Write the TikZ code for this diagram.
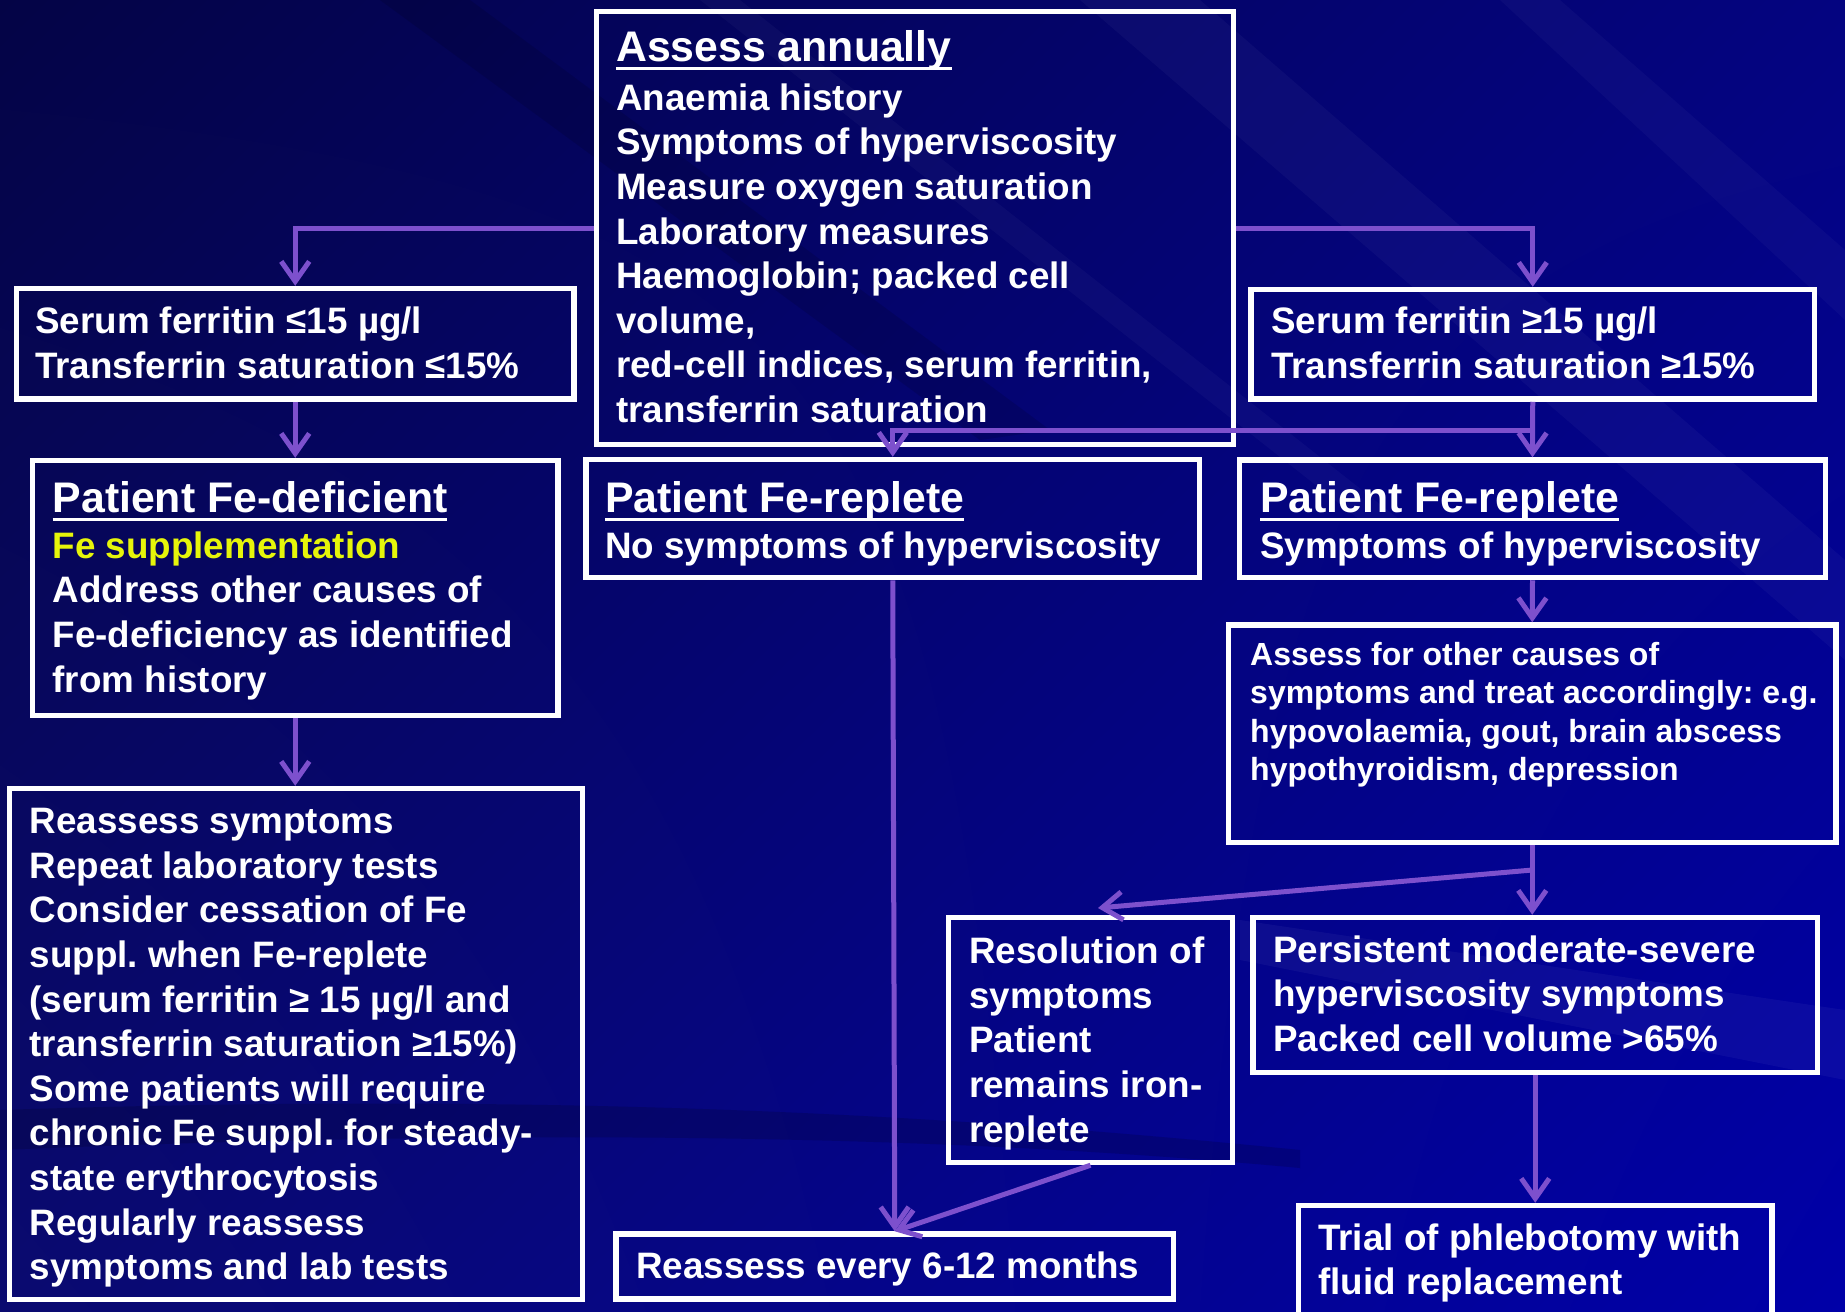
\documentclass[tikz,border=0pt]{standalone}
\usepackage{fontspec}
\setmainfont{Liberation Sans}
\usetikzlibrary{arrows.meta,shadings}
\definecolor{bgUL}{RGB}{4,4,70}
\definecolor{bgUR}{RGB}{4,4,128}
\definecolor{bgLL}{RGB}{10,10,112}
\definecolor{bgLR}{RGB}{0,0,168}
\definecolor{arrowc}{RGB}{125,80,205}
\definecolor{feyellow}{RGB}{230,245,10}
\newcommand\ulx[1]{\setbox0\hbox{#1}\rlap{\rule[-8pt]{\wd0}{3pt}}\box0}
\newcommand\boxat[5]{\node[boxst, minimum width={(#4-#2)*1pt}, minimum height={(#5-#3)*1pt}] (#1) at ({(#2+#4)/2},{(#3+#5)/2}) {};}
\tikzset{
  boxst/.style={draw=white, line width=5.5pt, inner sep=0pt},
  arr/.style={draw=arrowc, line width=5pt, -{Straight Barb[length=20pt,width=28pt]}},
  txt/.style={text=white, inner sep=0pt, align=left, anchor=north west, font=\fontsize{36.8}{44.6}\selectfont\bfseries\frenchspacing},
  sml/.style={text=white, inner sep=0pt, align=left, anchor=north west, font=\fontsize{32}{38.4}\selectfont\bfseries\frenchspacing},
  ttl/.style={text=white, inner sep=0pt, anchor=base west, font=\fontsize{42.8}{48}\selectfont\bfseries}
}
\begin{document}
\begin{tikzpicture}[x=1pt,y=-1pt]
\useasboundingbox (0,0) rectangle (1845,1312);
\clip (0,0) rectangle (1845,1312);
% background
\shade[upper left=bgUL, upper right=bgUR, lower left=bgLL, lower right=bgLR] (0,0) rectangle (1845,1312);
\fill[black, opacity=.12] (380,0) -- (470,0) -- (1050,430) -- (980,440) -- cycle;
\fill[white, opacity=.035] (1080,0) -- (1200,0) -- (1845,560) -- (1845,660) -- cycle;
\fill[white, opacity=.03] (1500,0) -- (1560,0) -- (1845,250) -- (1845,320) -- cycle;
\fill[white, opacity=.03] (700,0) -- (740,0) -- (1400,520) -- (1360,520) -- cycle;
\fill[white, opacity=.045] (1240,920) -- (1845,1010) -- (1845,1080) -- (1240,960) -- cycle;
\fill[black, opacity=.15] (0,1110) .. controls (600,1090) and (1000,1120) .. (1300,1150) -- (1300,1168) .. controls (1000,1140) and (600,1125) .. (0,1150) -- cycle;

% boxes
\boxat{top}{596.5}{11.5}{1233.5}{444.5}
\boxat{lo}{16.5}{288.5}{574}{399}
\boxat{hi}{1251}{289.5}{1814.5}{399}
\boxat{def}{32.5}{460.5}{558}{715.5}
\boxat{repA}{586}{459.5}{1199.5}{577.5}
\boxat{repB}{1239.5}{460}{1825.5}{577.5}
\boxat{other}{1228.5}{625}{1836}{842.5}
\boxat{reass}{9.5}{788.5}{582.5}{1299.5}
\boxat{resol}{948.5}{917.5}{1232.5}{1162.5}
\boxat{pers}{1253}{917.5}{1817.5}{1072.5}
\boxat{every}{616}{1234}{1173.5}{1299}
\boxat{trial}{1298.5}{1205.5}{1772}{1330}

% texts
\node[ttl] (tTop) at (616,61.7) {\ulx{Assess annually}};
\node[txt] (bTop) at (616,80) {\rule{0pt}{30pt}Anaemia history\\Symptoms of hyperviscosity\\Measure oxygen saturation\\Laboratory measures\\Haemoglobin; packed cell\\volume,\\red-cell indices, serum ferritin,\\transferrin saturation};
\node[txt] (bLo) at (35,303.5) {\rule{0pt}{30pt}Serum ferritin ≤15 µg/l\\Transferrin saturation ≤15\%};
\node[txt] (bHi) at (1271,303.5) {\rule{0pt}{30pt}Serum ferritin ≥15 µg/l\\Transferrin saturation ≥15\%};
\node[ttl] (tDef) at (52.5,512.7) {\ulx{Patient Fe-deficient}};
\node[txt] (bDef) at (52.5,528) {\rule{0pt}{30pt}{\color{feyellow}Fe supplementation}\\Address other causes of\\Fe-deficiency as identified\\from history};
\node[ttl] (tRepA) at (605,512.7) {\ulx{Patient Fe-replete}};
\node[txt] (bRepA) at (605,528) {\rule{0pt}{30pt}No symptoms of hyperviscosity};
\node[ttl] (tRepB) at (1260,512.7) {\ulx{Patient Fe-replete}};
\node[txt] (bRepB) at (1260,528) {\rule{0pt}{30pt}Symptoms of hyperviscosity};
\node[sml] (bOther) at (1250,639) {\rule{0pt}{26pt}Assess for other causes of\\symptoms and treat accordingly: e.g.\\hypovolaemia, gout, brain abscess\\hypothyroidism, depression};
\node[txt] (bReass) at (29.5,803.5) {\rule{0pt}{30pt}Reassess symptoms\\Repeat laboratory tests\\Consider cessation of Fe\\suppl. when Fe-replete\\(serum ferritin ≥ 15 µg/l and\\transferrin saturation ≥15\%)\\Some patients will require\\chronic Fe suppl. for steady-\\state erythrocytosis\\Regularly reassess\\symptoms and lab tests};
\node[txt] (bResol) at (969,933.5) {\rule{0pt}{30pt}Resolution of\\symptoms\\Patient\\remains iron-\\replete};
\node[txt] (bPers) at (1273,932) {\rule{0pt}{30pt}Persistent moderate-severe\\hyperviscosity symptoms\\Packed cell volume >65\%};
\node[txt] (bEvery) at (636,1248) {\rule{0pt}{30pt}Reassess every 6-12 months};
\node[txt] (bTrial) at (1318,1220) {\rule{0pt}{30pt}Trial of phlebotomy with\\fluid replacement};

% connectors
\coordinate (j1) at (1532.6,430);
\coordinate (j2) at (1532.3,870);
\coordinate (resin) at (1098,908);
\draw[arr] (top.west) -| (lo.north);
\draw[arr] (top.east) -| (hi.north);
\draw[arr] (lo.south) -- (def.north);
\draw[arr] (hi.south) -- (repB.north);
\draw[arr] (j1) -| (repA.north);
\draw[arr] (def.south) -- (def.south |- reass.north);
\draw[arr] (repA.south) -- (every.north);
\draw[arr] (repB.south) -- (other.north);
\draw[arr] (other.south) -- (other.south |- pers.north);
\draw[arr] (j2) -- (resin);
\draw[arr] (resol.south) -- (every.north);
\draw[arr] (pers.south) -- (trial.north);
\end{tikzpicture}
\end{document}
